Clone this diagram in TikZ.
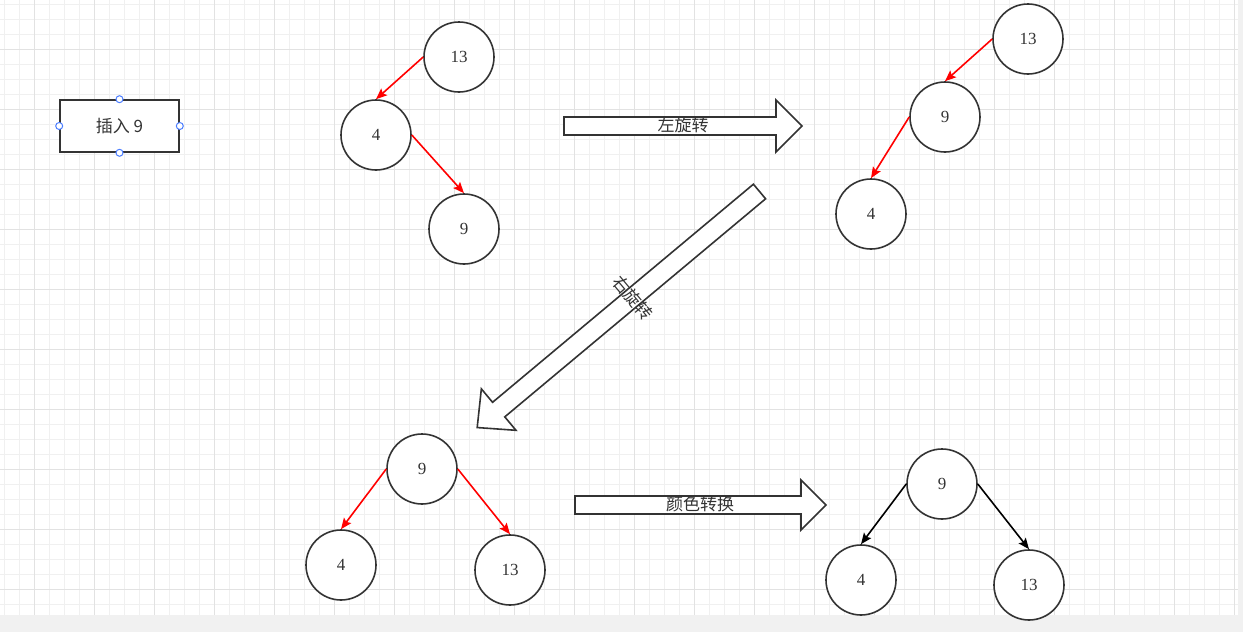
\documentclass[tikz,border=0pt]{standalone}
\usepackage{fontspec}
\setmainfont{Liberation Serif}
\newfontfamily\cjk{Noto Sans CJK SC}
\usetikzlibrary{arrows.meta}
\definecolor{ink}{HTML}{333333}
\definecolor{gridminor}{HTML}{F0F0F0}
\definecolor{gridmajor}{HTML}{E2E2E2}
\definecolor{strip}{HTML}{F1F1F1}
\definecolor{handle}{HTML}{4A7DFF}
\tikzset{
  treenode/.style={circle, draw=ink, line width=1.6pt, fill=white, minimum size=70pt, inner sep=0pt, text=ink, font=\fontsize{17}{20}\selectfont},
  redlink/.style={draw=red, line width=1.6pt, -{Stealth[length=11pt,width=9pt,inset=2pt]}},
  blacklink/.style={draw=black, line width=1.6pt, -{Stealth[length=11pt,width=9pt,inset=2pt]}},
  boxnode/.style={rectangle, draw=ink, line width=1.6pt, fill=white, minimum width=119pt, minimum height=52pt, inner sep=0pt, text=ink, font=\cjk\fontsize{17}{20}\selectfont},
  handlenode/.style={circle, draw=handle, fill=white, line width=1pt, minimum size=7pt, inner sep=0pt},
  blockarrow/.style={draw=ink, line width=1.6pt, fill=white, line join=miter},
  arrowlabel/.style={text=ink, font=\cjk\fontsize{17}{20}\selectfont, inner sep=0pt}
}
\begin{document}
\begin{tikzpicture}[x=1pt,y=-1pt]
\useasboundingbox (0,0) rectangle (1243,632);
\fill[strip] (0,0) rectangle (1243,632);
\fill[white] (0,0) rectangle (1238,615);
\foreach \x in {4,19,...,1234} \draw[gridminor, line width=1pt] (\x,0) -- (\x,615);
\foreach \y in {4,19,...,604} \draw[gridminor, line width=1pt] (0,\y) -- (1238,\y);
\foreach \x in {34,94,...,1234} \draw[gridmajor, line width=1pt] (\x,0) -- (\x,615);
\foreach \y in {49,109,...,589} \draw[gridmajor, line width=1pt] (0,\y) -- (1238,\y);

% insert box
\node[boxnode] (ins) at (119.5,126) {插入 9};
\node[handlenode] (hN) at (ins.north) {};
\node[handlenode] (hS) at (ins.south) {};
\node[handlenode] (hW) at (ins.west) {};
\node[handlenode] (hE) at (ins.east) {};

% tree 1
\node[treenode] (a13) at (459,57) {13};
\node[treenode] (a4) at (376,135) {4};
\node[treenode] (a9) at (464,229) {9};
\draw[redlink] (a13.west) -- (a4.north);
\draw[redlink] (a4.east) -- (a9.north);

% tree 2
\node[treenode] (b13) at (1028,39) {13};
\node[treenode] (b9) at (945,117) {9};
\node[treenode] (b4) at (871,214) {4};
\draw[redlink] (b13.west) -- (b9.north);
\draw[redlink] (b9.west) -- (b4.north);

% tree 3
\node[treenode] (c9) at (422,469) {9};
\node[treenode] (c4) at (341,565) {4};
\node[treenode] (c13) at (510,570) {13};
\draw[redlink] (c9.west) -- (c4.north);
\draw[redlink] (c9.east) -- (c13.north);

% tree 4
\node[treenode] (d9) at (942,484) {9};
\node[treenode] (d4) at (861,580) {4};
\node[treenode] (d13) at (1029,585) {13};
\draw[blacklink] (d9.west) -- (d4.north);
\draw[blacklink] (d9.east) -- (d13.north);

% block arrow: left rotation
\begin{scope}[shift={(564,126)}]
  \draw[blockarrow] (0,-9) -- (212,-9) -- (212,-26) -- (238,0) -- (212,26) -- (212,9) -- (0,9) -- cycle;
\end{scope}
\node[arrowlabel] (lblL) at (683,125) {左旋转};

% block arrow: color flip
\begin{scope}[shift={(575,505)}]
  \draw[blockarrow] (0,-9) -- (226,-9) -- (226,-25) -- (251,0) -- (226,25) -- (226,9) -- (0,9) -- cycle;
\end{scope}
\node[arrowlabel] (lblC) at (700,504) {颜色转换};

% diagonal block arrow: right rotation
\begin{scope}[shift={(759.5,191.5)}, rotate=-140.1]
  \draw[blockarrow] (0,-9.5) -- (340,-9.5) -- (340,-27) -- (368,0) -- (340,27) -- (340,9.5) -- (0,9.5) -- cycle;
\end{scope}
\node[arrowlabel, rotate=-50] (lblR) at (633,298) {右旋转};
\end{tikzpicture}
\end{document}
